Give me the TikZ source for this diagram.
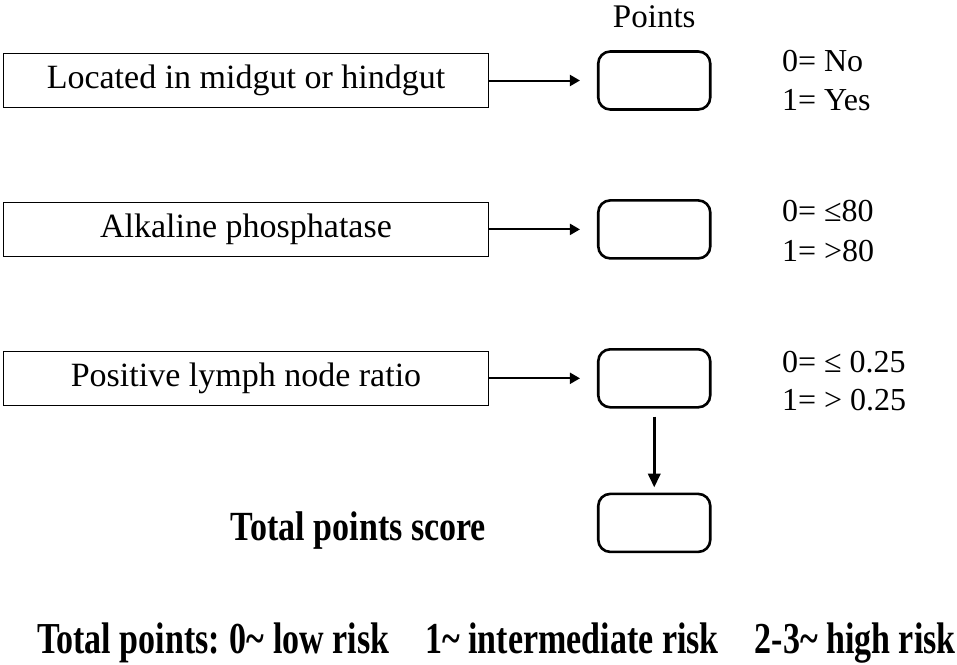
\documentclass[tikz,border=0pt]{standalone}
\usepackage{fontspec}
\setmainfont{Liberation Serif}
\usetikzlibrary{positioning, arrows.meta}

\tikzset{
  critbox/.style={draw, line width=0.9pt, minimum width=485pt, minimum height=54pt, inner sep=0pt, font=\fontsize{34}{40}\selectfont},
  ptsbox/.style={draw, line width=2.6pt, rounded corners=12pt, minimum width=112pt, minimum height=58pt},
  lbl/.style={inner sep=0pt, outer sep=0pt, font=\fontsize{32}{39}\selectfont},
  boldlbl/.style={inner sep=0pt, outer sep=0pt, font=\fontsize{34}{39}\selectfont\bfseries},
  ptarrow/.style={-{Triangle[length=10pt, width=11pt]}, line width=2pt},
  sumarrow/.style={-{Triangle[length=14pt, width=12pt]}, line width=3.4pt}
}

\begin{document}
\begin{tikzpicture}[x=1pt, y=-1pt, node distance=94pt]
  \useasboundingbox (0,0) rectangle (957,664);

  % criteria on the left
  \node[critbox] (loc) at (246,80.5) {Located in midgut or hindgut};
  \node[critbox, below=of loc] (alp) {Alkaline phosphatase};
  \node[critbox, below=of alp] (lnr) {Positive lymph node ratio};

  % point boxes
  \node[ptsbox, right=108pt of loc] (ptsloc) {};
  \node[ptsbox, right=108pt of alp] (ptsalp) {};
  \node[ptsbox, right=108pt of lnr] (ptslnr) {};
  \node[ptsbox, below=84pt of ptslnr] (ptstotal) {};

  \node[lbl, font=\fontsize{33}{39}\selectfont, above=22pt of ptsloc] (ptshead) {Points};

  % scoring rules
  \node[lbl, anchor=base west] (locno) at (782,71) {0= No};
  \node[lbl, anchor=base west] (locyes) at (782,110) {1= Yes};
  \node[lbl, anchor=base west] (alplo) at (782,221) {0= ≤80};
  \node[lbl, anchor=base west] (alphi) at (782,261) {1= >80};
  \node[lbl, anchor=base west] (lnrlo) at (782,372) {0= ≤ 0.25};
  \node[lbl, anchor=base west] (lnrhi) at (782,410) {1= > 0.25};

  \node[boldlbl, anchor=base] (totallbl) at (358.5,540) {\scalebox{1}[1.22]{Total points score}};
  \node[boldlbl, anchor=base west] (risk) at (37,653) {\scalebox{1}[1.3]{Total points:\hspace{10pt}0\textasciitilde{} low risk\hspace{36pt}1\textasciitilde{} intermediate risk\hspace{36pt}2-3\textasciitilde{} high risk}};

  \draw[ptarrow, shorten >=17pt] (loc.east) -- (loc.east -| ptsloc.west);
  \draw[ptarrow, shorten >=17pt] (alp.east) -- (alp.east -| ptsalp.west);
  \draw[ptarrow, shorten >=17pt] (lnr.east) -- (lnr.east -| ptslnr.west);
  \draw[sumarrow, shorten <=8pt, shorten >=5pt] (ptslnr) -- (ptstotal);
\end{tikzpicture}
\end{document}
